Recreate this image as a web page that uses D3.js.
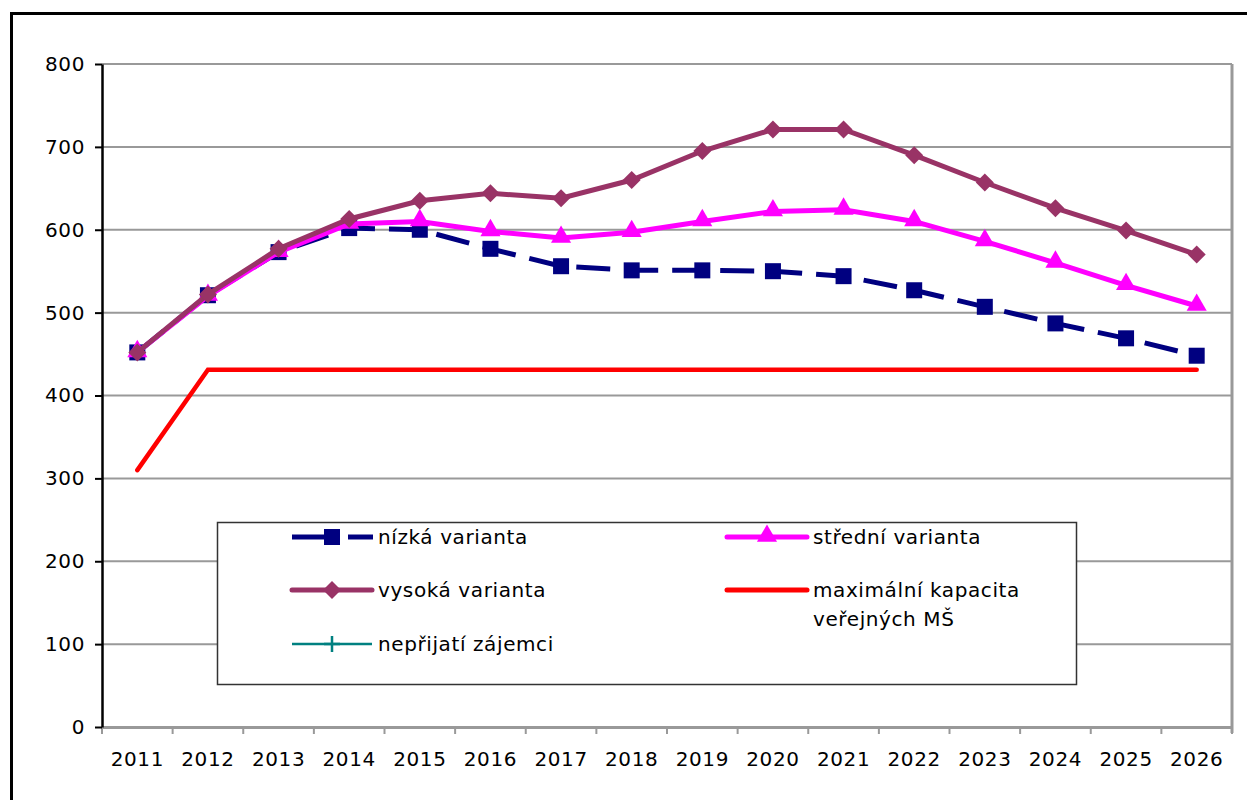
<!DOCTYPE html>
<html>
<head>
<meta charset="utf-8">
<script src="https://cdn.jsdelivr.net/npm/d3@7"></script>
<style>
body { margin: 0; background: #fff; }
svg { font-family: "DejaVu Sans", Verdana, sans-serif; }
</style>
</head>
<body>
<div id="chart"></div>
<script>
var years = ["2011","2012","2013","2014","2015","2016","2017","2018","2019","2020","2021","2022","2023","2024","2025","2026"];
var nizka = [452, 521, 573, 602, 600, 577, 556, 551, 551, 550, 544, 527, 507, 487, 469, 448];
var stredni = [452, 520, 573, 607, 610, 598, 590, 597, 610, 622, 624, 610, 586, 560, 533, 508];
var vysoka = [452, 522, 577, 613, 635, 644, 638, 660, 695, 721, 721, 690, 657, 626, 599, 570];
var kapacita = [310, 431, 431, 431, 431, 431, 431, 431, 431, 431, 431, 431, 431, 431, 431, 431];
var yTicks = [0, 100, 200, 300, 400, 500, 600, 700, 800];

var width = 1247, height = 800;
var margin = {left: 102, right: 15, top: 64, bottom: 73};
var fontSize = "20px", letterSp = "0.6px";

var svg = d3.select("#chart").append("svg")
  .attr("width", width)
  .attr("height", height);

// outer frame
svg.append("rect")
  .attr("x", 11.5).attr("y", 13.5)
  .attr("width", 1260).attr("height", 820)
  .style("fill", "none").style("stroke", "black").style("stroke-width", 3);

var x = d3.scaleBand()
  .domain(years)
  .range([margin.left, width - margin.right])
  .padding(0);

var y = d3.scaleLinear()
  .domain([0, 800])
  .range([height - margin.bottom, margin.top]);

var cx = function(i) { return x(years[i]) + x.bandwidth() / 2; };

// gridlines
svg.append("g")
  .selectAll("line")
  .data(yTicks.slice(1))
  .enter().append("line")
  .attr("x1", margin.left).attr("x2", width - margin.right)
  .attr("y1", function(d){ return y(d); })
  .attr("y2", function(d){ return y(d); })
  .style("stroke", "#999").style("stroke-width", 2);

// right border of plot
svg.append("line")
  .attr("x1", width - margin.right).attr("x2", width - margin.right)
  .attr("y1", y(800)).attr("y2", y(0) + 6)
  .style("stroke", "#999").style("stroke-width", 3);

// x axis
var xAxis = svg.append("g")
  .attr("transform", "translate(0," + y(0) + ")")
  .call(d3.axisBottom(x).tickSize(0).tickPadding(25));
xAxis.select(".domain").style("stroke", "#999").style("stroke-width", 3);
xAxis.selectAll("text").style("font-size", fontSize).style("letter-spacing", letterSp)
  .style("fill", "#000")
  .style("font-family", "'DejaVu Sans', Verdana, sans-serif");

svg.append("g")
  .selectAll("line")
  .data(years.concat(["end"]))
  .enter().append("line")
  .attr("x1", function(d){ return d === "end" ? x.range()[1] : x(d); })
  .attr("x2", function(d){ return d === "end" ? x.range()[1] : x(d); })
  .attr("y1", y(0)).attr("y2", y(0) + 7)
  .style("stroke", "#999").style("stroke-width", 2);

// y axis
var yAxis = svg.append("g")
  .attr("transform", "translate(" + margin.left + ",0)")
  .call(d3.axisLeft(y).tickValues(yTicks).tickSize(7).tickPadding(10).tickSizeOuter(0));
yAxis.select(".domain").style("stroke", "#000").style("stroke-width", 2.5);
yAxis.selectAll(".tick line").style("stroke", "#000").style("stroke-width", 2);
yAxis.selectAll("text").style("font-size", fontSize).style("letter-spacing", letterSp)
  .style("fill", "#000")
  .style("font-family", "'DejaVu Sans', Verdana, sans-serif");

var line = d3.line()
  .x(function(d, i){ return cx(i); })
  .y(function(d){ return y(d); });

// kapacita
svg.append("path")
  .datum(kapacita)
  .attr("d", line)
  .style("fill", "none").style("stroke", "#ff0000").style("stroke-width", 4.5)
  .style("stroke-linecap", "round");

// nizka
svg.append("path")
  .datum(nizka)
  .attr("d", line)
  .style("fill", "none").style("stroke", "#000080").style("stroke-width", 5)
  .style("stroke-dasharray", "34,14");
svg.append("g").selectAll("rect")
  .data(nizka).enter().append("rect")
  .attr("x", function(d, i){ return cx(i) - 8; })
  .attr("y", function(d){ return y(d) - 8; })
  .attr("width", 16).attr("height", 16)
  .style("fill", "#000080");

// stredni
svg.append("path")
  .datum(stredni)
  .attr("d", line)
  .style("fill", "none").style("stroke", "#ff00ff").style("stroke-width", 5);
var tri = d3.symbol().type(d3.symbolTriangle).size(175);
svg.append("g").selectAll("path")
  .data(stredni).enter().append("path")
  .attr("d", tri)
  .attr("transform", function(d, i){ return "translate(" + cx(i) + "," + (y(d) - 1) + ")"; })
  .style("fill", "#ff00ff");

// vysoka
svg.append("path")
  .datum(vysoka)
  .attr("d", line)
  .style("fill", "none").style("stroke", "#993366").style("stroke-width", 5);
svg.append("g").selectAll("path")
  .data(vysoka).enter().append("path")
  .attr("d", "M0,-9L9,0L0,9L-9,0Z")
  .attr("transform", function(d, i){ return "translate(" + cx(i) + "," + y(d) + ")"; })
  .style("fill", "#993366");

// legend
var legend = svg.append("g");
legend.append("rect")
  .attr("x", 217.5).attr("y", 522.5)
  .attr("width", 859).attr("height", 162)
  .style("fill", "#fff").style("stroke", "#333").style("stroke-width", 1.5);

var legendItems = [
  {name: ["nízká varianta"], color: "#000080", marker: "square", dash: true, lx: 292, ly: 537},
  {name: ["střední varianta"], color: "#ff00ff", marker: "triangle", lx: 727, ly: 537},
  {name: ["vysoká varianta"], color: "#993366", marker: "diamond", lx: 292, ly: 590},
  {name: ["maximální kapacita", "veřejných MŠ"], color: "#ff0000", marker: "none", lx: 727, ly: 590},
  {name: ["nepřijatí zájemci"], color: "#008080", marker: "plus", thin: true, lx: 292, ly: 644}
];

legendItems.forEach(function(it) {
  var g = legend.append("g");
  var mx = it.lx + 40;
  if (it.dash) {
    g.append("line").attr("x1", it.lx).attr("x2", mx).attr("y1", it.ly).attr("y2", it.ly)
      .style("stroke", it.color).style("stroke-width", 5);
    g.append("line").attr("x1", mx + 16).attr("x2", it.lx + 81).attr("y1", it.ly).attr("y2", it.ly)
      .style("stroke", it.color).style("stroke-width", 5);
  } else {
    g.append("line").attr("x1", it.lx).attr("x2", it.lx + 80).attr("y1", it.ly).attr("y2", it.ly)
      .style("stroke", it.color).style("stroke-width", it.thin ? 2.5 : 5)
      .style("stroke-linecap", it.thin ? "butt" : "round");
  }
  if (it.marker === "square") {
    g.append("rect").attr("x", mx - 8).attr("y", it.ly - 8).attr("width", 16).attr("height", 16)
      .style("fill", it.color);
  } else if (it.marker === "triangle") {
    g.append("path").attr("d", tri).attr("transform", "translate(" + mx + "," + (it.ly - 1) + ")")
      .style("fill", it.color);
  } else if (it.marker === "diamond") {
    g.append("path").attr("d", "M0,-9L9,0L0,9L-9,0Z").attr("transform", "translate(" + mx + "," + it.ly + ")")
      .style("fill", it.color);
  } else if (it.marker === "plus") {
    g.append("path").attr("d", "M0,-8V8M-8,0H8").attr("transform", "translate(" + mx + "," + it.ly + ")")
      .style("stroke", it.color).style("stroke-width", 2.5);
  }
  var t = g.append("text")
    .attr("x", it.lx + 86).attr("y", it.ly)
    .style("font-size", fontSize).style("letter-spacing", letterSp).style("fill", "#000");
  it.name.forEach(function(s, k) {
    t.append("tspan").attr("x", it.lx + 86).attr("dy", k === 0 ? "0.35em" : "1.45em").text(s);
  });
});
</script>
</body>
</html>
